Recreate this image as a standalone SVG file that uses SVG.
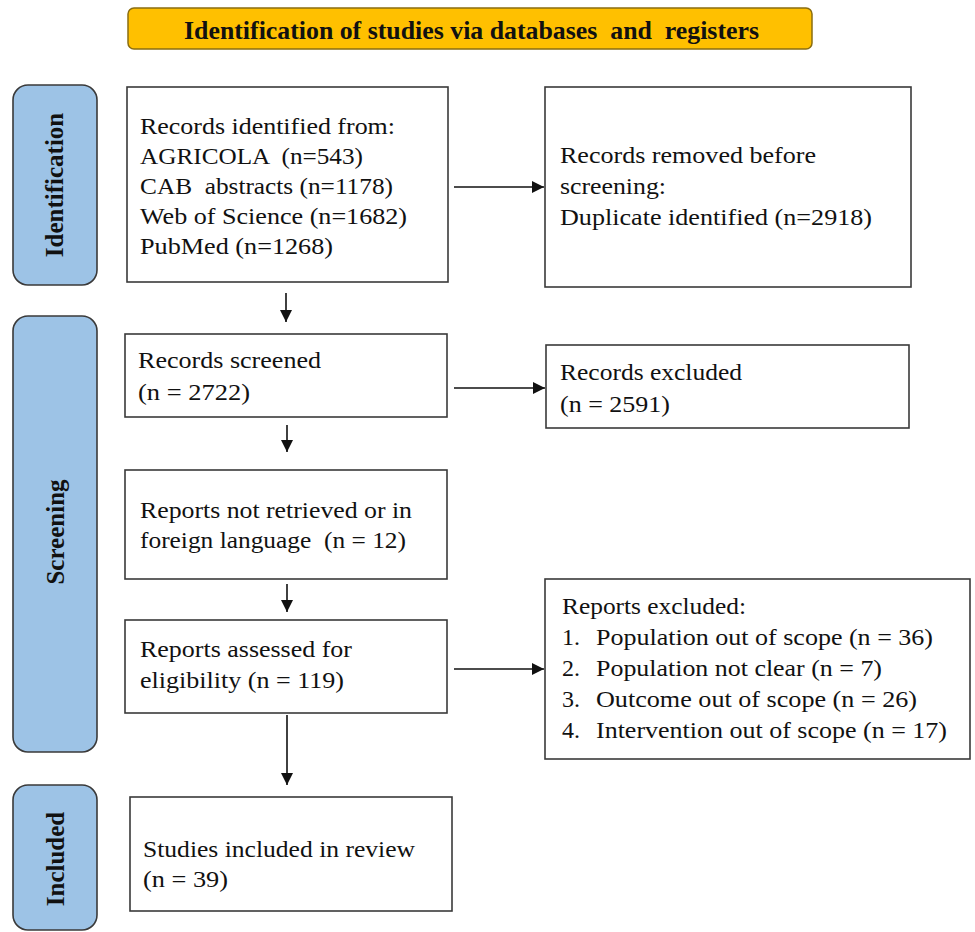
<svg xmlns="http://www.w3.org/2000/svg" width="975" height="932" viewBox="0 0 975 932">
<defs>
<marker id="ah" markerWidth="12" markerHeight="12" refX="12" refY="6" orient="auto" markerUnits="userSpaceOnUse">
<path d="M0,0 L12,6 L0,12 Z" fill="#111"/>
</marker>
<style>
.box{fill:#fff;stroke:#3a3a3a;stroke-width:1.6}
.side{fill:#9DC3E6;stroke:#3a3a3a;stroke-width:1.6}
.t{font-family:"Liberation Serif","Times New Roman",serif;font-size:24px;fill:#111;white-space:pre}
.s{font-family:"Liberation Serif","Times New Roman",serif;font-size:25px;font-weight:bold;fill:#111;text-anchor:middle}
.ln{stroke:#111;stroke-width:1.6;fill:none;marker-end:url(#ah)}
</style>
</defs>
<rect width="975" height="932" fill="#fff"/>
<g id="title">
<rect x="128" y="8" width="684" height="41" rx="6" fill="#FFC000" stroke="#8a6d10" stroke-width="1.5"/>
<text x="184" y="39" font-family="'Liberation Serif','Times New Roman',serif" font-size="25" font-weight="bold" fill="#111" textLength="575" lengthAdjust="spacingAndGlyphs" xml:space="preserve">Identification of studies via databases  and  registers</text>
</g>
<g id="lbl-identification">
<rect class="side" x="13" y="85" width="84" height="200" rx="15"/>
<text class="s" transform="translate(63,185) rotate(-90)">Identification</text>
</g>
<g id="lbl-screening">
<rect class="side" x="13" y="316" width="84" height="436" rx="15"/>
<text class="s" transform="translate(64,532) rotate(-90)">Screening</text>
</g>
<g id="lbl-included">
<rect class="side" x="13" y="785" width="84" height="145" rx="15"/>
<text class="s" transform="translate(64,859) rotate(-90)">Included</text>
</g>
<g id="n-identified">
<rect class="box" x="127" y="87" width="321" height="195"/>
<text class="t" x="140" y="134" textLength="255" lengthAdjust="spacingAndGlyphs">Records identified from:</text>
<text class="t" x="140" y="164" textLength="223" lengthAdjust="spacingAndGlyphs">AGRICOLA  (n=543)</text>
<text class="t" x="140" y="194" textLength="253" lengthAdjust="spacingAndGlyphs">CAB  abstracts (n=1178)</text>
<text class="t" x="140" y="224" textLength="267" lengthAdjust="spacingAndGlyphs">Web of Science (n=1682)</text>
<text class="t" x="140" y="254" textLength="193" lengthAdjust="spacingAndGlyphs">PubMed (n=1268)</text>
</g>
<g id="n-removed">
<rect class="box" x="545" y="87" width="366" height="200"/>
<text class="t" x="560" y="163" textLength="256" lengthAdjust="spacingAndGlyphs">Records removed before</text>
<text class="t" x="560" y="194" textLength="106" lengthAdjust="spacingAndGlyphs">screening:</text>
<text class="t" x="560" y="225" textLength="312" lengthAdjust="spacingAndGlyphs">Duplicate identified (n=2918)</text>
</g>
<g id="n-screened">
<rect class="box" x="125" y="334" width="322" height="83"/>
<text class="t" x="138" y="368" textLength="183" lengthAdjust="spacingAndGlyphs">Records screened</text>
<text class="t" x="138" y="400" textLength="112" lengthAdjust="spacingAndGlyphs">(n = 2722)</text>
</g>
<g id="n-excluded-records">
<rect class="box" x="546" y="345" width="363" height="83"/>
<text class="t" x="560" y="380" textLength="182" lengthAdjust="spacingAndGlyphs">Records excluded</text>
<text class="t" x="560" y="412" textLength="110" lengthAdjust="spacingAndGlyphs">(n = 2591)</text>
</g>
<g id="n-not-retrieved">
<rect class="box" x="125" y="470" width="322" height="109"/>
<text class="t" x="140" y="518" textLength="272" lengthAdjust="spacingAndGlyphs">Reports not retrieved or in</text>
<text class="t" x="140" y="548" textLength="266" lengthAdjust="spacingAndGlyphs">foreign language  (n = 12)</text>
</g>
<g id="n-assessed">
<rect class="box" x="125" y="620" width="322" height="93"/>
<text class="t" x="140" y="657" textLength="212" lengthAdjust="spacingAndGlyphs">Reports assessed for</text>
<text class="t" x="140" y="688" textLength="204" lengthAdjust="spacingAndGlyphs">eligibility (n = 119)</text>
</g>
<g id="n-excluded-reports">
<rect class="box" x="545" y="579" width="425" height="180"/>
<text class="t" x="562" y="614" textLength="184" lengthAdjust="spacingAndGlyphs">Reports excluded:</text>
<text class="t" x="562" y="645">1.</text>
<text class="t" x="596" y="645" textLength="337" lengthAdjust="spacingAndGlyphs">Population out of scope (n = 36)</text>
<text class="t" x="562" y="676">2.</text>
<text class="t" x="596" y="676" textLength="286" lengthAdjust="spacingAndGlyphs">Population not clear (n = 7)</text>
<text class="t" x="562" y="707">3.</text>
<text class="t" x="596" y="707" textLength="321" lengthAdjust="spacingAndGlyphs">Outcome out of scope (n = 26)</text>
<text class="t" x="562" y="738">4.</text>
<text class="t" x="596" y="738" textLength="351" lengthAdjust="spacingAndGlyphs">Intervention out of scope (n = 17)</text>
</g>
<g id="n-included">
<rect class="box" x="130" y="797" width="322" height="114"/>
<text class="t" x="143" y="857" textLength="272" lengthAdjust="spacingAndGlyphs">Studies included in review</text>
<text class="t" x="143" y="887" textLength="85" lengthAdjust="spacingAndGlyphs">(n = 39)</text>
</g>
<g id="connectors">
<line class="ln" x1="286" y1="293" x2="286" y2="322"/>
<line class="ln" x1="287" y1="425" x2="287" y2="452"/>
<line class="ln" x1="287" y1="584" x2="287" y2="612"/>
<line class="ln" x1="287" y1="715" x2="287" y2="785"/>
<line class="ln" x1="454" y1="187" x2="544" y2="187"/>
<line class="ln" x1="454" y1="388" x2="545" y2="388"/>
<line class="ln" x1="454" y1="669" x2="544" y2="669"/>
</g>
</svg>
